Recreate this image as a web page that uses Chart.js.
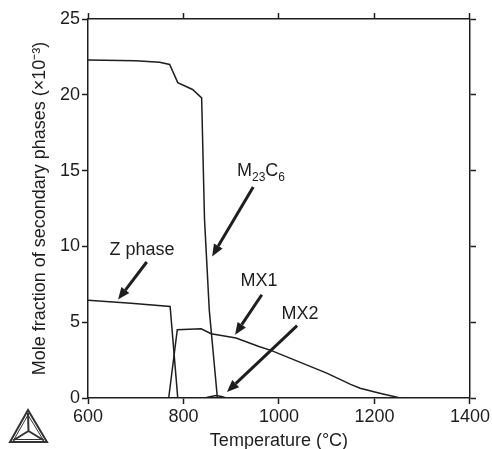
<!DOCTYPE html>
<html>
<head>
<meta charset="utf-8">
<script src="https://cdn.jsdelivr.net/npm/chart.js@4.4.1/dist/chart.umd.min.js"></script>
<style>
  html, body { margin: 0; padding: 0; background: #fff; }
  #wrap { width: 492px; height: 449px; }
</style>
</head>
<body>
<div id="wrap"><canvas id="chart" width="492" height="449"></canvas></div>
<script>
// values (temperature in °C, mole fraction ×10^-3)
const m23c6Temp = [600, 700, 750, 771, 788, 819, 838, 844, 854, 871];
const m23c6Frac = [22.3, 22.25, 22.15, 22.0, 20.8, 20.35, 19.8, 11.8, 5.8, 0];

const zPhaseTemp = [600, 690, 772, 788];
const zPhaseFrac = [6.44, 6.25, 6.04, 0];

const mx1Temp = [769, 787, 837, 858, 910, 958, 983, 1100, 1150, 1170, 1209, 1254];
const mx1Frac = [0, 4.5, 4.57, 4.24, 3.96, 3.4, 3.14, 1.64, 0.9, 0.64, 0.33, 0];

const mx2Temp = [844, 858, 868, 880, 889];
const mx2Frac = [0, 0.1, 0.16, 0.1, 0];

const tempTicks = [600, 800, 1000, 1200, 1400];
const fracTicks = [0, 5, 10, 15, 20, 25];

// labels and arrows, in data coordinates
const notes = [
  { text: 'Z phase', x: 713, y: 9.78, from: [723, 8.97], to: [663, 6.49] },
  { text: 'MX1', x: 958, y: 7.69, from: [964, 6.81], to: [908, 4.18] },
  { text: 'MX2', x: 1044, y: 5.57, from: [1038, 4.77], to: [891, 0.4] },
  { parts: [['M', 0], ['23', 1], ['C', 0], ['6', 1]], x: 912, y: 14.62, from: [946, 13.92], to: [860, 9.34] }
];

const ink = '#1e1e1e';
const FONT = 'Arial, "Liberation Sans", Helvetica, sans-serif';

function pts(xs, ys) {
  return xs.map((x, i) => ({ x: x, y: ys[i] }));
}

function curve(data) {
  return {
    data: data,
    showLine: true,
    borderColor: ink,
    borderWidth: 1.5,
    pointRadius: 0,
    tension: 0,
    fill: false
  };
}

const notesPlugin = {
  id: 'notes',
  afterDatasetsDraw(chart) {
    const ctx = chart.ctx;
    const xs = chart.scales.x, ys = chart.scales.y;
    ctx.save();
    ctx.fillStyle = ink;
    ctx.strokeStyle = ink;
    notes.forEach(n => {
      // arrow
      const x1 = xs.getPixelForValue(n.from[0]), y1 = ys.getPixelForValue(n.from[1]);
      const x2 = xs.getPixelForValue(n.to[0]), y2 = ys.getPixelForValue(n.to[1]);
      const a = Math.atan2(y2 - y1, x2 - x1);
      const head = 12, half = 5;
      const bx = x2 - head * Math.cos(a), by = y2 - head * Math.sin(a);
      ctx.lineWidth = 3;
      ctx.beginPath();
      ctx.moveTo(x1, y1);
      ctx.lineTo(bx, by);
      ctx.stroke();
      ctx.beginPath();
      ctx.moveTo(x2, y2);
      ctx.lineTo(bx + half * Math.sin(a), by - half * Math.cos(a));
      ctx.lineTo(bx - half * Math.sin(a), by + half * Math.cos(a));
      ctx.closePath();
      ctx.fill();

      // label
      const px = xs.getPixelForValue(n.x), py = ys.getPixelForValue(n.y);
      if (n.text) {
        ctx.font = '18px ' + FONT;
        ctx.textAlign = 'center';
        ctx.textBaseline = 'middle';
        ctx.fillText(n.text, px, py);
      } else {
        ctx.textAlign = 'left';
        ctx.textBaseline = 'alphabetic';
        let cx = px;
        n.parts.forEach(p => {
          ctx.font = (p[1] ? '12px ' : '18px ') + FONT;
          ctx.fillText(p[0], cx, py + (p[1] ? 5 : 0));
          cx += ctx.measureText(p[0]).width;
        });
      }
    });
    ctx.restore();
  },
  afterDraw(chart) {
    // small logo in the lower left corner
    const ctx = chart.ctx;
    ctx.save();
    ctx.strokeStyle = '#333';
    const top = [28, 410], l = [10, 442], r = [47, 442];
    const c = [28.5, 431];
    ctx.lineWidth = 2;
    ctx.beginPath();
    ctx.moveTo(top[0], top[1]); ctx.lineTo(l[0], l[1]); ctx.lineTo(r[0], r[1]); ctx.closePath();
    ctx.stroke();
    ctx.lineWidth = 1;
    ctx.beginPath();
    ctx.moveTo(28, 415); ctx.lineTo(14, 439.5); ctx.lineTo(43, 439.5); ctx.closePath();
    ctx.stroke();
    ctx.lineWidth = 2;
    ctx.beginPath();
    ctx.moveTo(c[0], c[1]); ctx.lineTo(top[0], top[1] + 3);
    ctx.moveTo(c[0], c[1]); ctx.lineTo(l[0] + 3, l[1] - 1.5);
    ctx.moveTo(c[0], c[1]); ctx.lineTo(r[0] - 3, r[1] - 1.5);
    ctx.stroke();
    ctx.restore();
  }
};

const tickFont = { family: FONT, size: 18 };
const titleFont = { family: FONT, size: 18, lineHeight: 1 };

function edgeAxis(position, ticks, step, showLabels, extra) {
  return Object.assign({
    type: 'linear',
    position: position,
    min: ticks[0],
    max: ticks[ticks.length - 1],
    ticks: {
      display: showLabels,
      stepSize: step,
      color: ink,
      font: tickFont,
      padding: 2,
      callback: v => String(v)
    },
    grid: {
      drawOnChartArea: false,
      drawTicks: true,
      tickLength: 6,
      tickColor: ink,
      tickWidth: 1.5
    },
    border: { display: true, color: ink, width: 1.5 }
  }, extra);
}

new Chart(document.getElementById('chart'), {
  type: 'scatter',
  data: {
    datasets: [
      curve(pts(m23c6Temp, m23c6Frac)),
      curve(pts(zPhaseTemp, zPhaseFrac)),
      curve(pts(mx1Temp, mx1Frac)),
      curve(pts(mx2Temp, mx2Frac))
    ]
  },
  options: {
    responsive: false,
    animation: false,
    events: [],
    layout: { padding: 0 },
    plugins: { legend: { display: false }, tooltip: { enabled: false } },
    scales: {
      x: edgeAxis('bottom', tempTicks, 200, true, {
        title: { display: true, text: 'Temperature (°C)', color: ink, font: titleFont, padding: { top: 0, bottom: -1 } },
        afterFit: s => { s.height = 51; }
      }),
      x2: edgeAxis('top', tempTicks, 200, false, {
        afterFit: s => { s.height = 19; }
      }),
      y: edgeAxis('left', fracTicks, 5, true, {
        title: { display: true, text: 'Mole fraction of secondary phases (×10⁻³)', color: ink, font: titleFont, padding: { top: 31, bottom: 0 } },
        afterFit: s => { s.width = 88; }
      }),
      y2: edgeAxis('right', fracTicks, 5, false, {
        afterFit: s => { s.width = 20; }
      })
    }
  },
  plugins: [notesPlugin]
});
</script>
</body>
</html>
